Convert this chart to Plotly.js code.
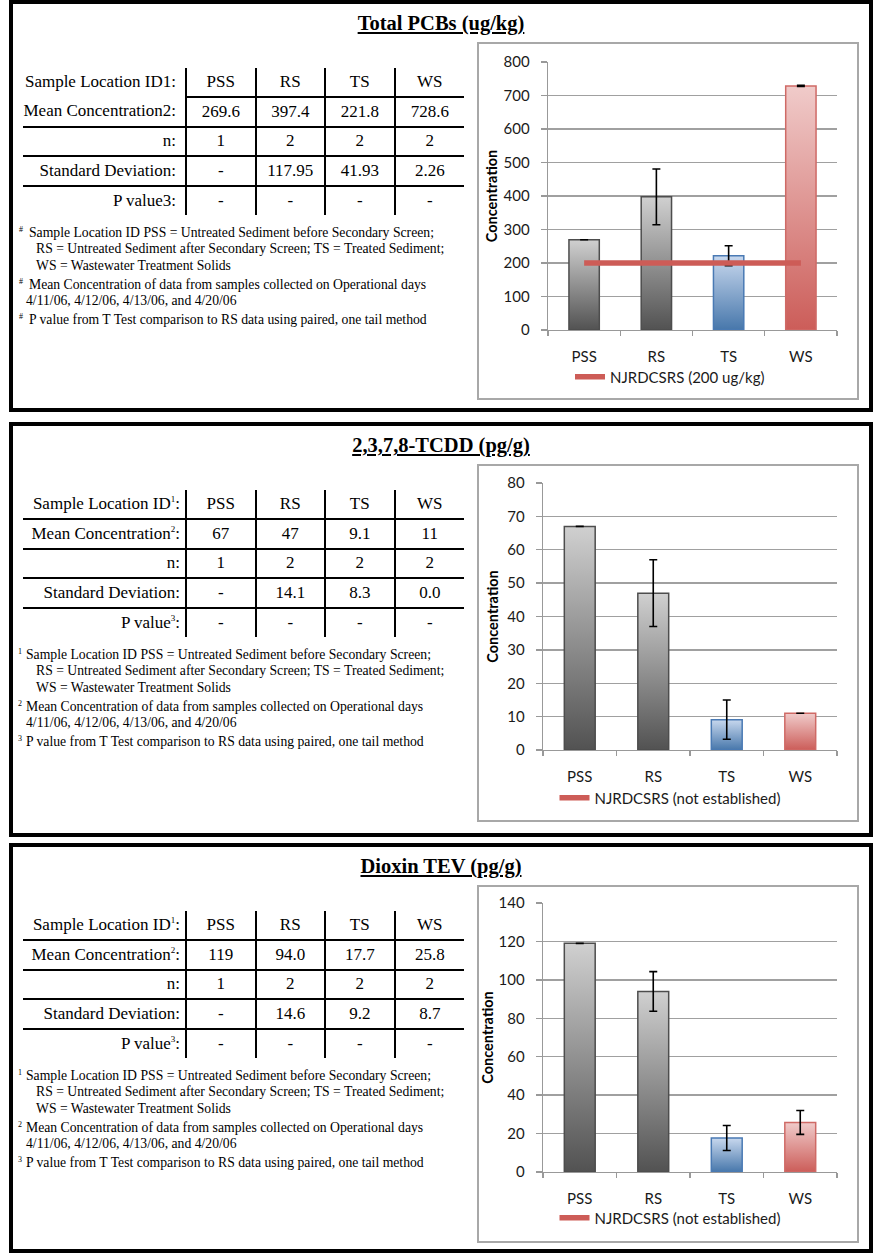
<!DOCTYPE html>
<html>
<head>
<meta charset="utf-8">
<script src="https://cdn.plot.ly/plotly-3.0.1.min.js"></script>
<style>
  html, body { margin:0; padding:0; background:#fff; }
  body { width:874px; height:1253px; position:relative; overflow:hidden; }
  .panel { position:absolute; left:9px; width:864px; border:4.5px solid #000; box-sizing:border-box; }
  .ptitle { position:absolute; left:9px; width:864px; text-align:center; font-family:'Liberation Serif', serif;
            font-weight:bold; font-size:20.5px; text-decoration:underline; color:#000; line-height:24px; }
  table.st { position:absolute; left:23px; border-collapse:collapse; table-layout:fixed;
             font-family:'Liberation Serif', serif; font-size:17px; color:#000; }
  table.st td { padding:0; text-align:center; vertical-align:middle; height:27.8px;
                border-right:2px solid #000; border-bottom:2px solid #000; white-space:nowrap; }
  table.st td.lab { text-align:right; padding-right:5px; }
  table.st.p1 td.lab { padding-right:9px; }
  table.st td:last-child { border-right:none; }
  table.st tr:last-child td { border-bottom:none; }
  table.st.p1 tr:first-child td.lab { border-bottom:none; }
  table.st sup { font-size:9px; vertical-align:7px; line-height:0; }
  .fn { position:absolute; font-family:'Liberation Serif', serif; font-size:13.7px; color:#000; white-space:nowrap; line-height:16px; }
  .fn sup { font-size:8px; position:absolute; top:-3px; }
  .chartbox { position:absolute; left:477px; width:382px; height:358px; border:2px solid #a8a8a8; box-sizing:border-box; }
  .chart { position:absolute; left:0; top:0; width:378px; height:354px; }
</style>
</head>
<body>
<script>
// ---------- data ----------
const categories = ['PSS', 'RS', 'TS', 'WS'];

// Total PCBs (ug/kg)
const pcbMean     = [269.6, 397.4, 221.8, 728.6];
const pcbMeanText = ['269.6', '397.4', '221.8', '728.6'];
const pcbN        = ['1', '2', '2', '2'];
const pcbSD       = ['-', '117.95', '41.93', '2.26'];
const pcbP        = ['-', '-', '-', '-'];
const pcbErr      = [0, 83.4, 29.6, 1.6];
const pcbLimit    = [200, 200, 200, 200];

// 2,3,7,8-TCDD (pg/g)
const tcddMean     = [67, 47, 9.1, 11];
const tcddMeanText = ['67', '47', '9.1', '11'];
const tcddN        = ['1', '2', '2', '2'];
const tcddSD       = ['-', '14.1', '8.3', '0.0'];
const tcddP        = ['-', '-', '-', '-'];
const tcddErr      = [0, 10.0, 5.9, 0];
const tcddLimit    = [null, null, null, null];

// Dioxin TEV (pg/g)
const tevMean     = [119, 94.0, 17.7, 25.8];
const tevMeanText = ['119', '94.0', '17.7', '25.8'];
const tevN        = ['1', '2', '2', '2'];
const tevSD       = ['-', '14.6', '9.2', '8.7'];
const tevP        = ['-', '-', '-', '-'];
const tevErr      = [0, 10.3, 6.5, 6.2];
const tevLimit    = [null, null, null, null];

const footnote1 = ['Sample Location ID PSS = Untreated Sediment before Secondary Screen;',
                   'RS = Untreated Sediment after Secondary Screen; TS = Treated Sediment;',
                   'WS = Wastewater Treatment Solids'];
const footnote2 = ['Mean Concentration of data from samples collected on Operational days',
                   '4/11/06, 4/12/06, 4/13/06, and 4/20/06'];
const footnote3 = ['P value from T Test comparison to RS data using paired, one tail method'];

// ---------- panels ----------
const panels = [
  { top:0, height:412, title:'Total PCBs (ug/kg)', p1:true,
    mean:pcbMean, meanText:pcbMeanText, n:pcbN, sd:pcbSD, p:pcbP, err:pcbErr, limit:pcbLimit,
    legend:'NJRDCSRS (200 ug/kg)', range:[0, 800], dtick:100, l:69, t:18, b:68, legY:21, so:2 },
  { top:422, height:415, title:'2,3,7,8-TCDD (pg/g)', p1:false,
    mean:tcddMean, meanText:tcddMeanText, n:tcddN, sd:tcddSD, p:tcddP, err:tcddErr, limit:tcddLimit,
    legend:'NJRDCSRS (not established)', range:[0, 80], dtick:10, l:64, t:17, b:70, legY:22, so:5 },
  { top:843, height:410, title:'Dioxin TEV (pg/g)', p1:false,
    mean:tevMean, meanText:tevMeanText, n:tevN, sd:tevSD, p:tevP, err:tevErr, limit:tevLimit,
    legend:'NJRDCSRS (not established)', range:[0, 140], dtick:20, l:64, t:16, b:69, legY:23, so:2 }
];

const gradStops = {
  gray: ['#d0d0d0', '#525252'],
  blue: ['#c8d8ee', '#4777ab'],
  red:  ['#f0cbca', '#cc5d59']
};
const barGrad  = ['gray', 'gray', 'blue', 'red'];
const barFill  = ['#909090', '#909090', '#88a8d0', '#de9492'];
const barLine  = ['#4d4d4d', '#4d4d4d', '#4a7ab4', '#cf6a66'];

function el(tag, cls, parent) {
  const e = document.createElement(tag);
  if (cls) e.className = cls;
  (parent || document.body).appendChild(e);
  return e;
}

panels.forEach((P, idx) => {
  const box = el('div', 'panel');
  box.style.top = P.top + 'px';
  box.style.height = P.height + 'px';

  const t = el('div', 'ptitle');
  t.style.top = (P.top + 11) + 'px';
  t.textContent = P.title;

  // table
  const tbl = el('table', 'st' + (P.p1 ? ' p1' : ''));
  tbl.style.top = (P.top + 68) + 'px';
  const cg = el('colgroup', null, tbl);
  [163, 69.5, 69.5, 69.5, 69.5].forEach(w => { const c = el('col', null, cg); c.style.width = w + 'px'; });
  const s = (k) => P.p1 ? String(k) : '<sup>' + k + '</sup>';
  const rows = [
    ['Sample Location ID' + s(1) + ':', categories],
    ['Mean Concentration' + s(2) + ':', P.meanText],
    ['n:', P.n],
    ['Standard Deviation:', P.sd],
    ['P value' + s(3) + ':', P.p]
  ];
  const tb = el('tbody', null, tbl);
  rows.forEach(r => {
    const tr = el('tr', null, tb);
    const lab = el('td', 'lab', tr);
    lab.innerHTML = r[0];
    r[1].forEach(v => { const td = el('td', null, tr); td.textContent = v; });
  });

  // footnotes
  const marks = P.p1 ? ['#', '#', '#'] : ['1', '2', '3'];
  const firstX = P.p1 ? 29 : 26;
  const lines = [
    { x:firstX, y:225, text:footnote1[0], mark:marks[0] },
    { x:36, y:241, text:footnote1[1] },
    { x:36, y:258, text:footnote1[2] },
    { x:firstX, y:277, text:footnote2[0], mark:marks[1] },
    { x:26, y:293, text:footnote2[1] },
    { x:firstX, y:312, text:footnote3[0], mark:marks[2] }
  ];
  lines.forEach(L => {
    const d = el('div', 'fn');
    d.style.left = L.x + 'px';
    d.style.top = (P.top + L.y) + 'px';
    d.textContent = L.text;
    if (L.mark) {
      const sp = document.createElement('sup');
      sp.textContent = L.mark;
      sp.style.left = (P.p1 ? -10 : -8) + 'px';
      d.appendChild(sp);
    }
  });

  // chart
  const cb = el('div', 'chartbox');
  cb.style.top = (P.top + 42) + 'px';
  const gd = el('div', 'chart', cb);
  gd.id = 'chart' + idx;

  const traces = [
    { type:'bar', x:categories, y:P.mean, showlegend:false, hoverinfo:'skip',
      marker:{ color:barFill, line:{ color:barLine, width:1.5 } },
      error_y:{ type:'data', array:P.err, visible:true, color:'#000', thickness:1.6, width:4 } },
    { type:'scatter', mode:'lines', x:categories, y:P.limit, name:P.legend, showlegend:true,
      line:{ color:'#cd5c57', width:5.5 }, hoverinfo:'skip' }
  ];
  const axisFont = { family:'Lato, sans-serif', size:15, color:'#1a1a1a' };
  const layout = {
    width:378, height:354,
    margin:{ l:P.l, r:20, t:P.t, b:P.b, pad:0, autoexpand:false },
    paper_bgcolor:'#fff', plot_bgcolor:'#fff',
    bargap:0.58,
    showlegend:true,
    legend:{ orientation:'h', xref:'container', yref:'container',
             x:(670 - 479) / 378, xanchor:'center',
             y:P.legY / 354, yanchor:'middle',
             font:{ family:'Lato, sans-serif', size:15, color:'#1a1a1a' },
             bgcolor:'rgba(0,0,0,0)' },
    xaxis:{ type:'category', range:[-0.5, 3.5], showline:true, linecolor:'#999', linewidth:1.3,
            ticks:'outside', tickson:'boundaries', ticklen:5, tickcolor:'#999', tickwidth:1.3,
            showgrid:false, tickfont:axisFont, ticklabelstandoff:13, fixedrange:true, automargin:false },
    yaxis:{ range:P.range, dtick:P.dtick, showline:true, linecolor:'#999', linewidth:1.3,
            ticks:'outside', ticklen:6, tickcolor:'#999', tickwidth:1.3,
            showgrid:true, gridcolor:'#a0a0a0', gridwidth:1.3, zeroline:false,
            tickfont:axisFont, ticklabelstandoff:8, fixedrange:true,
            title:{ text:'Concentration', font:{ family:'Lato, sans-serif', size:14.5, color:'#000', weight:'bold' }, standoff:P.so } }
  };
  Plotly.newPlot(gd, traces, layout, { displayModeBar:false, staticPlot:true }).then(() => {
    const svg = gd.querySelector('svg.main-svg');
    const defs = svg.querySelector('defs');
    const NS = 'http://www.w3.org/2000/svg';
    Object.keys(gradStops).forEach(k => {
      const lg = document.createElementNS(NS, 'linearGradient');
      lg.setAttribute('id', 'grad-' + idx + '-' + k);
      lg.setAttribute('x1', '0'); lg.setAttribute('y1', '0');
      lg.setAttribute('x2', '0'); lg.setAttribute('y2', '1');
      gradStops[k].forEach((c, i) => {
        const st = document.createElementNS(NS, 'stop');
        st.setAttribute('offset', i === 0 ? '0' : '1');
        st.setAttribute('stop-color', c);
        lg.appendChild(st);
      });
      defs.appendChild(lg);
    });
    const paths = gd.querySelectorAll('.barlayer .trace .point path');
    paths.forEach((p, i) => {
      p.style.setProperty('fill', 'url(#grad-' + idx + '-' + barGrad[i] + ')');
    });
  });
});
</script>
</body>
</html>
